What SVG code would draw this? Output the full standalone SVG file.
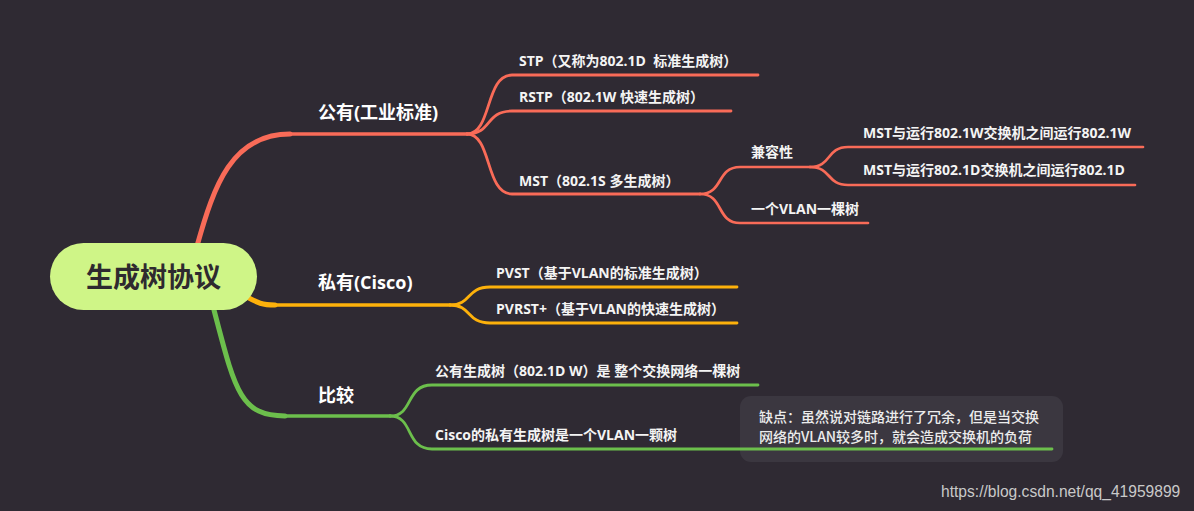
<svg xmlns="http://www.w3.org/2000/svg" width="1194" height="511" viewBox="0 0 1194 511">
<style>
.t{font-family:"Open Sans","Noto Sans CJK SC",sans-serif;font-weight:700;fill:#f4f4f4;white-space:pre}
.b{font-size:18px;fill:#ffffff}
.s{font-size:14px}
.n{font-family:"Noto Sans CJK SC","Open Sans",sans-serif;font-size:14px;fill:#ececec;font-weight:500}
.r{fill:none;stroke:#f96b58;stroke-linecap:round}
.o{fill:none;stroke:#fdb10b;stroke-linecap:round}
.g{fill:none;stroke:#6cbf4c;stroke-linecap:round}
</style>
<rect width="1194" height="511" fill="#2f2a33"/>
<g id="connectors">
  <path class="r" d="M197,246 C214,185 232,134 290,134" stroke-width="5"/>
  <path class="r" d="M290,134 L467,134" stroke-width="3.5"/>
  <path class="r" d="M467,134 C492,134 485,75 512,75 L758,75" stroke-width="2.8"/>
  <path class="r" d="M467,134 C492,134 485,111 512,111 L731,111" stroke-width="2.8"/>
  <path class="r" d="M467,134 C492,134 485,194 512,194 L700,194" stroke-width="2.8"/>
  <path class="r" d="M700,194 C724,194 716,167 740,167 L810,167" stroke-width="2.7"/>
  <path class="r" d="M700,194 C724,194 716,223 740,223 L868,223" stroke-width="2.7"/>
  <path class="r" d="M810,167 C832,167 826,147 848,147 L1143,147" stroke-width="2.7"/>
  <path class="r" d="M810,167 C832,167 826,185 848,185 L1135,185" stroke-width="2.7"/>
  <path class="o" d="M247,297 C258,303 262,305 275,305" stroke-width="5"/>
  <path class="o" d="M275,305 L450,305" stroke-width="3.5"/>
  <path class="o" d="M450,305 C472,305 466,287 490,287 L737,287" stroke-width="2.8"/>
  <path class="o" d="M450,305 C472,305 466,323 490,323 L737,323" stroke-width="2.8"/>
  <path class="g" d="M214,310 C235,390 240,416 285,416" stroke-width="5"/>
  <path class="g" d="M285,416 L390,416" stroke-width="3.5"/>
  <path class="g" d="M390,416 C414,416 405,385 432,385 L758,385" stroke-width="2.8"/>
</g>
<g id="note">
  <rect x="740" y="396" width="323" height="66" rx="11" fill="#3b3740"/>
  <text class="n" x="759" y="422">缺点：虽然说对链路进行了冗余，但是当交换</text>
  <text class="n" x="759" y="442">网络的VLAN较多时，就会造成交换机的负荷</text>
</g>
<g id="connector-cisco">
  <path class="g" d="M390,416 C414,416 405,449 432,449 L1052,449" stroke-width="2.8"/>
</g>
<g id="root">
  <rect x="50" y="243" width="207" height="67" rx="33.5" fill="#cff587"/>
  <text x="153.5" y="287" text-anchor="middle" font-family="'Noto Sans CJK SC',sans-serif" font-weight="700" font-size="27" fill="#2e2a2f">生成树协议</text>
</g>
<g id="public"><text class="t b" x="318" y="119">公有(工业标准)</text></g>
<g id="stp"><text class="t s" x="519" y="66">STP（又称为802.1D  标准生成树）</text></g>
<g id="rstp"><text class="t s" x="519" y="102">RSTP（802.1W 快速生成树）</text></g>
<g id="mst"><text class="t s" x="519" y="186">MST（802.1S 多生成树）</text></g>
<g id="compat"><text class="t s" x="751" y="157" font-weight="500">兼容性</text></g>
<g id="mst-1w"><text class="t s" x="863" y="138">MST与运行802.1W交换机之间运行802.1W</text></g>
<g id="mst-1d"><text class="t s" x="863" y="175">MST与运行802.1D交换机之间运行802.1D</text></g>
<g id="vlan-tree"><text class="t s" x="751" y="214">一个VLAN一棵树</text></g>
<g id="private"><text class="t b" x="318" y="289">私有(Cisco)</text></g>
<g id="pvst"><text class="t s" x="496" y="278">PVST（基于VLAN的标准生成树）</text></g>
<g id="pvrst"><text class="t s" x="496" y="314">PVRST+（基于VLAN的快速生成树）</text></g>
<g id="compare"><text class="t b" x="318" y="402">比较</text></g>
<g id="cmp-public"><text class="t s" x="435" y="376">公有生成树（802.1D W）是 整个交换网络一棵树</text></g>
<g id="cmp-cisco"><text class="t s" x="435" y="440">Cisco的私有生成树是一个VLAN一颗树</text></g>
<text x="941" y="497" font-family="'Liberation Sans',Arial,sans-serif" font-size="15.6" fill="#c9c9c9">https://blog.csdn.net/qq_41959899</text>
</svg>
